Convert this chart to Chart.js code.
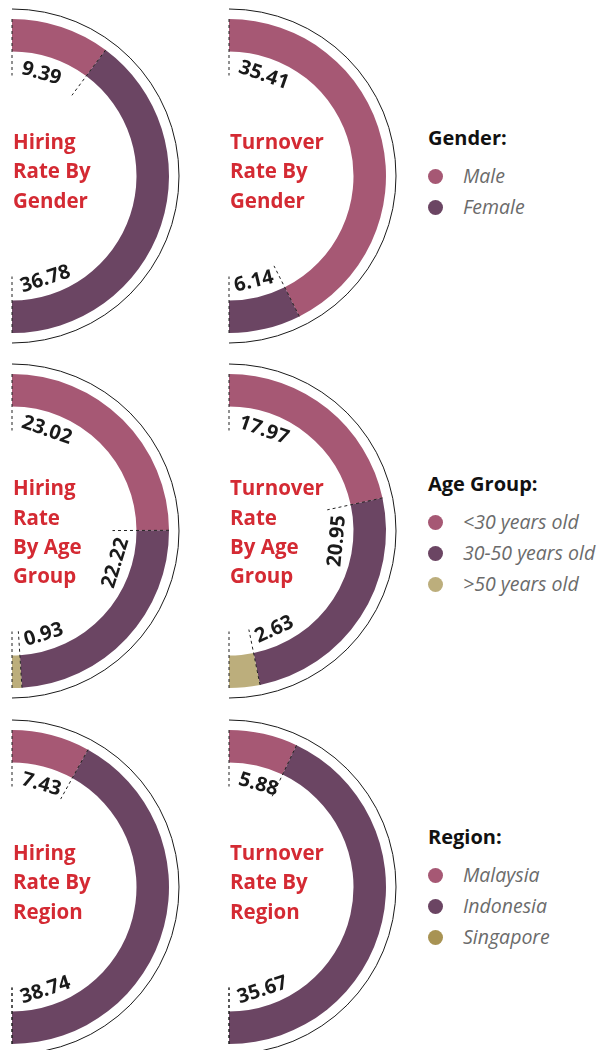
<!DOCTYPE html>
<html>
<head>
<meta charset="utf-8">
<script src="https://cdn.jsdelivr.net/npm/chart.js@4"></script>
<style>
  html, body { margin:0; padding:0; background:#fff; }
  body { width:616px; height:1050px; position:relative; overflow:hidden; font-family:"Open Sans", sans-serif; }
  canvas.c { position:absolute; }
  .title { position:absolute; color:#d42a33; font-weight:700; font-size:20.5px; line-height:29.4px; z-index:2; white-space:nowrap; }
  .lg-title { position:absolute; color:#111; font-weight:700; font-size:20px; line-height:24px; white-space:nowrap; }
  .lg-item { position:absolute; color:#6b6b6b; font-style:italic; font-size:19.5px; line-height:24px; white-space:nowrap; }
  .lg-dot { position:absolute; width:15px; height:15px; border-radius:50%; }
</style>
</head>
<body>
<script>
// ---------- data ----------
const genderCategories = ['Male', 'Female'];
const hiringByGender = [9.39, 36.78];
const turnoverByGender = [35.41, 6.14];

const ageCategories = ['<30 years old', '30-50 years old', '>50 years old'];
const hiringByAge = [23.02, 22.22, 0.93];
const turnoverByAge = [17.97, 20.95, 2.63];

const regionCategories = ['Malaysia', 'Indonesia', 'Singapore'];
const hiringByRegion = [7.43, 38.74, 0];
const turnoverByRegion = [5.88, 35.67, 0];

const chartTitles = [
  ['Hiring', 'Rate By', 'Gender'],
  ['Turnover', 'Rate By', 'Gender'],
  ['Hiring', 'Rate', 'By Age', 'Group'],
  ['Turnover', 'Rate', 'By Age', 'Group'],
  ['Hiring', 'Rate By', 'Region'],
  ['Turnover', 'Rate By', 'Region']
];
const legendTitles = ['Gender:', 'Age Group:', 'Region:'];

// ---------- styles ----------
const PINK = '#a65874', PURPLE = '#6b4563', LIGHTGOLD = '#bcae7c', GOLD = '#a89353';
const genderColors = [PINK, PURPLE];
const ageColors = [PINK, PURPLE, LIGHTGOLD];
const regionColors = [PINK, PURPLE, GOLD];

const colX = [12, 229];
const rowY = [176, 531, 887];
const R = 157;

// label placement relative to segment boundaries (style only)
const charts = [
  { labels: genderCategories, data: hiringByGender,   colors: genderColors, col:0, row:0, place:['after','beforeEnd'] },
  { labels: genderCategories, data: turnoverByGender, colors: genderColors, col:1, row:0, place:['after','afterNear'] },
  { labels: ageCategories,    data: hiringByAge,      colors: ageColors,    col:0, row:1, place:['after','afterMid','beforeStart'] },
  { labels: ageCategories,    data: turnoverByAge,    colors: ageColors,    col:1, row:1, place:['after','afterMid','beforeStart'] },
  { labels: regionCategories, data: hiringByRegion,   colors: regionColors, col:0, row:2, place:['after','beforeEnd','none'] },
  { labels: regionCategories, data: turnoverByRegion, colors: regionColors, col:1, row:2, place:['after','beforeEnd','none'] }
];
const gaps = { after: 10, afterMid: 7, afterNear: 5, beforeEnd: 8, beforeStart: 5 };

const decor = {
  id: 'decor',
  afterDatasetsDraw(chart, args, opts) {
    const arcs = chart.getDatasetMeta(0).data;
    if (!arcs.length) return;
    const p0 = arcs[0].getProps(['x','y','outerRadius','innerRadius'], true);
    const cx = p0.x, cy = p0.y, oR = p0.outerRadius, iR = p0.innerRadius;
    const ctx = chart.ctx;
    ctx.save();
    // thin outer arc
    ctx.beginPath();
    ctx.arc(cx, cy, oR + 10, -Math.PI/2, Math.PI/2);
    ctx.strokeStyle = '#1a1a1a';
    ctx.lineWidth = 1;
    ctx.stroke();
    // dashed boundary lines
    const bounds = [arcs[0].getProps(['startAngle'], true).startAngle];
    arcs.forEach(a => bounds.push(a.getProps(['endAngle'], true).endAngle));
    ctx.setLineDash([3, 3]);
    ctx.strokeStyle = '#222';
    bounds.forEach(t => {
      ctx.beginPath();
      ctx.moveTo(cx + oR * Math.cos(t), cy + oR * Math.sin(t));
      ctx.lineTo(cx + (iR - 24) * Math.cos(t), cy + (iR - 24) * Math.sin(t));
      ctx.stroke();
    });
    ctx.setLineDash([]);
    // value labels
    const vals = chart.data.datasets[0].data;
    const place = opts.place;
    ctx.font = '700 20px "Open Sans"';
    ctx.fillStyle = '#1a1a1a';
    ctx.textAlign = 'center';
    ctx.textBaseline = 'middle';
    const r = iR - 17;
    arcs.forEach((a, i) => {
      if (!vals[i] || place[i] === 'none') return;
      const pr = a.getProps(['startAngle','endAngle'], true);
      const txt = vals[i].toFixed(2);
      const hw = ctx.measureText(txt).width / 2;
      const d = (hw + gaps[place[i]]) / r;
      let t;
      if (place[i].startsWith('after')) t = pr.startAngle + d;
      else if (place[i] === 'beforeEnd') t = pr.endAngle - d;
      else t = pr.startAngle - d;
      const px = cx + r * Math.cos(t), py = cy + r * Math.sin(t);
      const rot = t < 0 ? t + Math.PI/2 : t - Math.PI/2;
      ctx.save();
      ctx.translate(px, py);
      ctx.rotate(rot);
      ctx.fillText(txt, 0, 1);
      ctx.restore();
    });
    ctx.restore();
  }
};

charts.forEach((c, idx) => {
  const cx = colX[c.col], cy = rowY[c.row];
  const cv = document.createElement('canvas');
  cv.className = 'c';
  cv.width = 197; cv.height = 360;
  cv.style.left = (cx - 20) + 'px';
  cv.style.top = (cy - 180) + 'px';
  cv.style.width = '197px'; cv.style.height = '360px';
  document.body.appendChild(cv);
  new Chart(cv, {
    type: 'doughnut',
    data: {
      labels: c.labels,
      datasets: [{ data: c.data, backgroundColor: c.colors, borderWidth: 0, hoverOffset: 0 }]
    },
    options: {
      responsive: false,
      devicePixelRatio: 1,
      animation: false,
      rotation: 0,
      circumference: 180,
      radius: R,
      cutout: (124.5 / R * 100).toFixed(2) + '%',
      layout: { padding: 0 },
      events: [],
      plugins: { legend: { display: false }, tooltip: { enabled: false }, decor: { place: c.place } }
    },
    plugins: [decor]
  });
  // title
  const t = document.createElement('div');
  t.className = 'title';
  t.style.left = (c.col === 0 ? 13 : 230) + 'px';
  const lines = chartTitles[idx];
  t.style.top = (cy - lines.length * 29.4 / 2 - (lines.length === 4 ? -1 : 5)) + 'px';
  t.innerHTML = lines.join('<br>');
  document.body.appendChild(t);
});

// legends
const legends = [
  { title: legendTitles[0], cats: genderCategories, colors: genderColors, y: 138 },
  { title: legendTitles[1], cats: ageCategories, colors: ageColors, y: 484 },
  { title: legendTitles[2], cats: regionCategories, colors: regionColors, y: 837 }
];
legends.forEach(lg => {
  const h = document.createElement('div');
  h.className = 'lg-title';
  h.style.left = '428px';
  h.style.top = (lg.y - 12) + 'px';
  h.textContent = lg.title;
  document.body.appendChild(h);
  lg.cats.forEach((name, i) => {
    const yy = lg.y + 38 + i * 31;
    const dot = document.createElement('div');
    dot.className = 'lg-dot';
    dot.style.background = lg.colors[i];
    dot.style.left = '428px';
    dot.style.top = (yy - 7.5) + 'px';
    document.body.appendChild(dot);
    const tx = document.createElement('div');
    tx.className = 'lg-item';
    tx.style.left = '463px';
    tx.style.top = (yy - 12) + 'px';
    tx.textContent = name;
    document.body.appendChild(tx);
  });
});
</script>
</body>
</html>
